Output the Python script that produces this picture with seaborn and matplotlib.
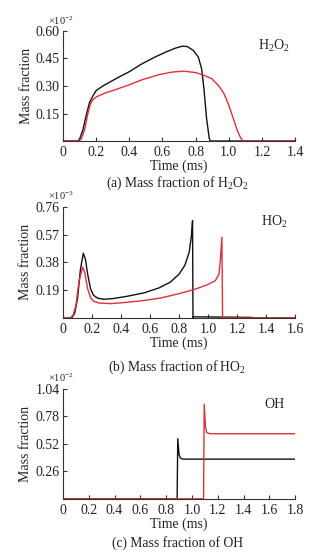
import numpy as np
import pandas as pd
import matplotlib
matplotlib.use('Agg')
import matplotlib.pyplot as plt
import seaborn as sns
from matplotlib.ticker import FuncFormatter

# ---- data (mass fractions, already scaled by the axis multiplier) ----
# (a) H2O2, x1e-2
h2o2_t_black = [0, 0.09, 0.10, 0.12, 0.14, 0.16, 0.18, 0.20, 0.24, 0.28, 0.34, 0.40, 0.48, 0.56,
                0.62, 0.68, 0.72, 0.75, 0.786, 0.816, 0.836, 0.85, 0.866, 0.882, 0.889, 1.4]
h2o2_v_black = [0, 0, 0.01, 0.06, 0.14, 0.21, 0.245, 0.275, 0.30, 0.32, 0.35, 0.378, 0.423, 0.46,
                0.485, 0.507, 0.517, 0.515, 0.494, 0.458, 0.394, 0.285, 0.123, 0.014, 0, 0]
h2o2_t_red = [0, 0.095, 0.11, 0.13, 0.15, 0.165, 0.18, 0.20, 0.25, 0.30, 0.38, 0.48, 0.58, 0.66,
              0.73, 0.80, 0.846, 0.897, 0.94, 0.97, 1.00, 1.03, 1.05, 1.07, 1.085, 1.4]
h2o2_v_red = [0, 0, 0.01, 0.06, 0.15, 0.20, 0.225, 0.24, 0.26, 0.275, 0.30, 0.335, 0.362, 0.376,
              0.381, 0.373, 0.36, 0.34, 0.30, 0.26, 0.195, 0.115, 0.06, 0.02, 0, 0]

# (b) HO2, x1e-3
ho2_t_black = [0, 0.06, 0.08, 0.10, 0.12, 0.14, 0.155, 0.17, 0.19, 0.21, 0.24, 0.28, 0.34, 0.44,
               0.56, 0.66, 0.74, 0.80, 0.84, 0.87, 0.885, 0.893, 0.896, 0.90, 1.30, 1.31, 1.6]
ho2_v_black = [0, 0, 0.03, 0.13, 0.33, 0.443, 0.40, 0.30, 0.20, 0.155, 0.135, 0.128, 0.132, 0.148,
               0.172, 0.205, 0.245, 0.30, 0.36, 0.45, 0.56, 0.665, 0.0, 0.008, 0.004, 0, 0]
ho2_t_red = [0, 0.05, 0.07, 0.09, 0.11, 0.136, 0.15, 0.17, 0.19, 0.21, 0.25, 0.33, 0.44, 0.56,
             0.67, 0.79, 0.90, 0.99, 1.05, 1.075, 1.085, 1.095, 1.10, 1.6]
ho2_v_red = [0, 0, 0.02, 0.09, 0.25, 0.348, 0.31, 0.20, 0.14, 0.115, 0.102, 0.098, 0.107, 0.12,
             0.136, 0.164, 0.193, 0.225, 0.255, 0.30, 0.40, 0.552, 0.0, 0]

# (c) OH, x1e-2
oh_t_black = [0, 0.885, 0.89, 0.90, 0.91, 0.93, 1.8]
oh_v_black = [0, 0, 0.568, 0.42, 0.385, 0.375, 0.375]
oh_t_red = [0, 1.09, 1.095, 1.105, 1.115, 1.14, 1.8]
oh_v_red = [0, 0, 0.892, 0.68, 0.625, 0.615, 0.615]

panels = [
    dict(tb=h2o2_t_black, vb=h2o2_v_black, tr=h2o2_t_red, vr=h2o2_v_red,
         xmax=1.4, yticks=[0.15, 0.30, 0.45, 0.60], mult=r'$\times$10$^{-2}$',
         species=r'H$_2$O$_2$', caption=r'(a) Mass fraction of H$_2$O$_2$'),
    dict(tb=ho2_t_black, vb=ho2_v_black, tr=ho2_t_red, vr=ho2_v_red,
         xmax=1.6, yticks=[0.19, 0.38, 0.57, 0.76], mult=r'$\times$10$^{-3}$',
         species=r'HO$_2$', caption=r'(b) Mass fraction of HO$_2$'),
    dict(tb=oh_t_black, vb=oh_v_black, tr=oh_t_red, vr=oh_v_red,
         xmax=1.8, yticks=[0.26, 0.52, 0.78, 1.04], mult=r'$\times$10$^{-2}$',
         species='OH', caption='(c) Mass fraction of OH'),
]

sns.set_theme(style='ticks')
plt.rcParams['font.family'] = ['Liberation Serif', 'DejaVu Serif']
plt.rcParams['mathtext.fontset'] = 'custom'
plt.rcParams['mathtext.rm'] = 'Liberation Serif'
plt.rcParams['mathtext.it'] = 'Liberation Serif:italic'
plt.rcParams['mathtext.default'] = 'regular'

fig = plt.figure(figsize=(3.35, 5.53), dpi=100)

# axes boxes in figure fractions: left, bottom, width, height
boxes = [[0.188, 0.745, 0.693, 0.199],
         [0.188, 0.425, 0.693, 0.201],
         [0.188, 0.098, 0.693, 0.199]]
captions_y = [0.669, 0.336, 0.018]
ink = '#333333'
fs = 10

for p, box, cy in zip(panels, boxes, captions_y):
    ax = fig.add_axes(box)
    df = pd.DataFrame({
        'time': list(p['tb']) + list(p['tr']),
        'value': list(p['vb']) + list(p['vr']),
        'case': ['black'] * len(p['tb']) + ['red'] * len(p['tr']),
    })
    sns.lineplot(data=df, x='time', y='value', hue='case',
                 palette={'black': '#111111', 'red': '#d8323c'},
                 estimator=None, sort=False, linewidth=1.0, legend=False, ax=ax)
    ax.set_xlim(0, p['xmax'])
    ax.set_ylim(0, p['yticks'][-1])
    ax.set_xticks(np.arange(0, p['xmax'] + 0.01, 0.2))
    ax.set_yticks(p['yticks'])
    ax.xaxis.set_major_formatter(FuncFormatter(lambda v, _: '0' if abs(v) < 1e-9 else f'{v:.1f}'))
    ax.yaxis.set_major_formatter(FuncFormatter(lambda v, _: f'{v:.2f}'))
    sns.despine(ax=ax)
    for s in ['left', 'bottom']:
        ax.spines[s].set_color(ink)
        ax.spines[s].set_linewidth(0.8)
    ax.tick_params(axis='x', pad=3.5)
    ax.tick_params(axis='y', pad=2.5)
    ax.tick_params(direction='in', length=3, width=0.8, color=ink,
                   labelsize=fs, labelcolor='#222222')
    ax.set_xlabel('Time (ms)', fontsize=fs, color='#222222', labelpad=0.5)
    ax.set_ylabel('Mass fraction', fontsize=fs, color='#222222', labelpad=2)
    ax.text(-0.065, 1.04, p['mult'], transform=ax.transAxes, fontsize=7.5,
            color='#222222', ha='left', va='bottom')
    ax.text(0.91, 0.86, p['species'], transform=ax.transAxes, fontsize=fs,
            color='#222222', ha='center', va='center')
    fig.text(box[0] + box[2] / 2 - 0.005, cy, p['caption'], fontsize=9.8,
             color='#222222', ha='center', va='center')

fig.savefig('out.png', dpi=100)
